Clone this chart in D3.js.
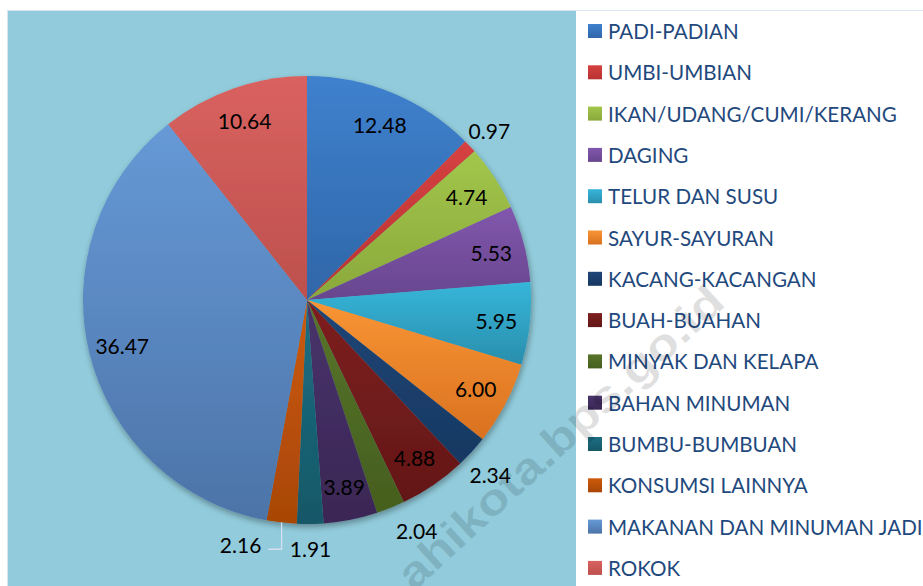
<!DOCTYPE html>
<html>
<head>
<meta charset="utf-8">
<script src="https://cdn.jsdelivr.net/npm/d3@7"></script>
<style>
  html, body { margin: 0; padding: 0; background: #ffffff; }
  svg { display: block; }
</style>
</head>
<body>
<svg id="chart" width="923" height="586"></svg>
<script>
// ---- data ----
const categories = [
  "PADI-PADIAN", "UMBI-UMBIAN", "IKAN/UDANG/CUMI/KERANG", "DAGING",
  "TELUR DAN SUSU", "SAYUR-SAYURAN", "KACANG-KACANGAN", "BUAH-BUAHAN",
  "MINYAK DAN KELAPA", "BAHAN MINUMAN", "BUMBU-BUMBUAN", "KONSUMSI LAINNYA",
  "MAKANAN DAN MINUMAN JADI", "ROKOK"
];
const values = [12.48, 0.97, 4.74, 5.53, 5.95, 6.00, 2.34, 4.88, 2.04, 3.89, 1.91, 2.16, 36.47, 10.64];
const colorsTop = ["#3F81CE", "#D64141", "#A2C64A", "#8157AD", "#36B6DA", "#F99535", "#1F4677",
                   "#7E1F1F", "#58752A", "#49336B", "#1D6E82", "#CC5A0A", "#6699D6", "#D9625F"];
const colorsBottom = ["#2F66A8", "#B83232", "#8AA83C", "#68468E", "#2A8EAC", "#D9711F", "#173861",
                      "#631717", "#455E1E", "#3A2754", "#155868", "#A84606", "#4C74A8", "#BD504D"];
const watermark = "ahikota.bps.go.id";

// ---- layout ----
const W = 923, H = 586;
const plot = { x: 8, y: 11, w: 568, h: 575 };
const cx = 307, cy = 300, R = 224;
const outsideThreshold = 3;
const labelNudgeDeg = { 1: 0.5, 6: 1, 8: -3.5, 11: 8.7 };   // manual label moves (index -> degrees)
const labelRadiusFactor = { 6: 1.13, 8: 1.14, 11: 1.13 };
const leaderFor = { 11: true };

const svg = d3.select("#chart");
const defs = svg.append("defs");

// gradients per slice
values.forEach((v, i) => {
  const g = defs.append("linearGradient")
    .attr("id", "grad" + i).attr("x1", 0).attr("y1", 0).attr("x2", 0).attr("y2", 1);
  g.append("stop").attr("offset", "0%").attr("stop-color", colorsTop[i]);
  g.append("stop").attr("offset", "100%").attr("stop-color", colorsBottom[i]);
});
const sh = defs.append("filter").attr("id", "shadow")
  .attr("x", "-20%").attr("y", "-20%").attr("width", "140%").attr("height", "140%");
sh.append("feDropShadow").attr("dx", 1).attr("dy", 3).attr("stdDeviation", 3)
  .attr("flood-color", "#000").attr("flood-opacity", 0.35);

// chart border + plot area
svg.append("rect").attr("x", 7.5).attr("y", 10.5).attr("width", W).attr("height", H)
  .attr("fill", "#ffffff").attr("stroke", "#DCE6F2").attr("stroke-width", 1);
svg.append("rect").attr("x", plot.x).attr("y", plot.y).attr("width", plot.w).attr("height", plot.h)
  .attr("fill", "#92CCDC");

// pie
const pie = d3.pie().value(d => d).sort(null);
const arcs = pie(values);
const arc = d3.arc().innerRadius(0).outerRadius(R);

const g = svg.append("g").attr("transform", `translate(${cx},${cy})`);
const slices = g.append("g").attr("filter", "url(#shadow)");
slices.selectAll("path").data(arcs).enter().append("path")
  .attr("d", arc)
  .attr("fill", (d, i) => `url(#grad${i})`);

// labels
const fmt = d3.format(".2f");
const labelFont = "Lato, 'Noto Sans', sans-serif";
arcs.forEach((d, i) => {
  const mid = (d.startAngle + d.endAngle) / 2;
  const outside = d.data < outsideThreshold;
  const ang = mid + ((labelNudgeDeg[i] || 0) * Math.PI / 180);
  const rf = outside ? (labelRadiusFactor[i] || 1.11) : 0.85;
  const lx = Math.sin(ang) * R * rf;
  const ly = -Math.cos(ang) * R * rf;
  const t = g.append("text")
    .attr("x", lx).attr("y", ly)
    .attr("text-anchor", "middle")
    .attr("dominant-baseline", "central")
    .attr("font-family", labelFont)
    .attr("font-size", 21)
    .attr("fill", "#000")
    .text(fmt(d.data));
  if (leaderFor[i]) {
    const ex = Math.sin(mid) * R, ey = -Math.cos(mid) * R;
    const bb = t.node().getBBox();
    const hy = ly + 5;
    g.append("polyline")
      .attr("points", [[ex, ey], [ex, hy], [bb.x + bb.width + 7, hy]].map(p => p.join(",")).join(" "))
      .attr("fill", "none").attr("stroke", "#D3DEF0").attr("stroke-width", 1.3);
  }
});

// legend
const legend = svg.append("g");
const legY0 = 31, legStep = 41.3;
categories.forEach((c, i) => {
  const y = legY0 + i * legStep;
  legend.append("rect").attr("x", 588).attr("y", y - 7).attr("width", 14).attr("height", 14)
    .attr("fill", `url(#grad${i})`);
  legend.append("text").attr("x", 608).attr("y", y)
    .attr("dominant-baseline", "central")
    .attr("font-family", labelFont)
    .attr("font-size", 20.6)
    .attr("fill", "#1F497D")
    .text(c);
});

// watermark
svg.append("text")
  .attr("transform", `translate(560,437) rotate(-42.5)`)
  .attr("text-anchor", "middle")
  .attr("dominant-baseline", "central")
  .attr("font-family", "'Liberation Sans', Arial, sans-serif")
  .attr("font-weight", "bold")
  .attr("font-size", 44)
  .attr("textLength", 425)
  .attr("lengthAdjust", "spacingAndGlyphs")
  .attr("fill", "#000").attr("fill-opacity", 0.12)
  .text(watermark);
</script>
</body>
</html>
